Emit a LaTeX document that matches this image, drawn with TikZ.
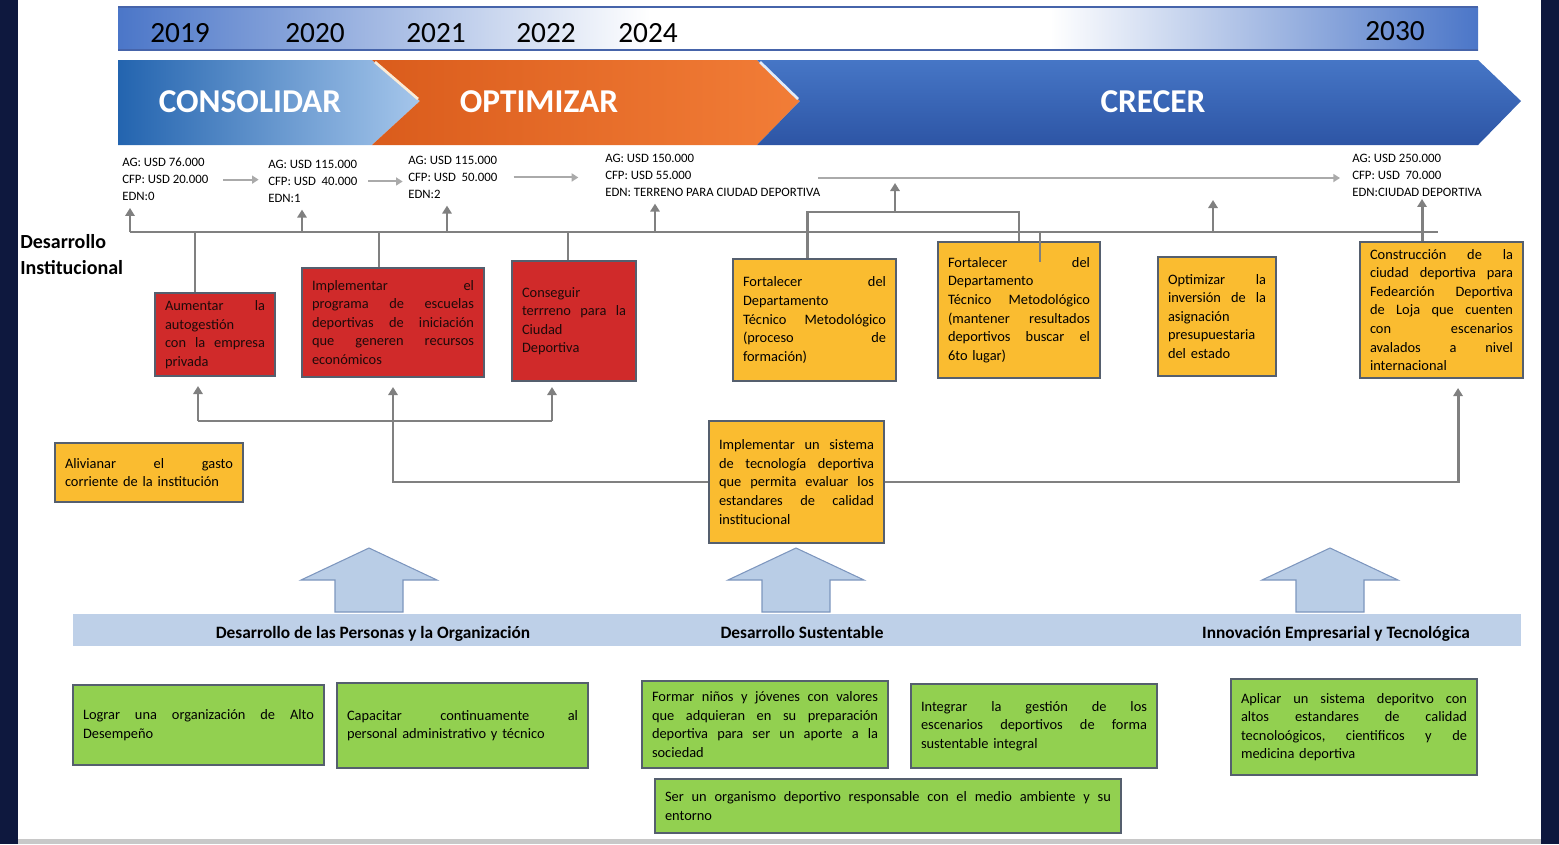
\documentclass[tikz,border=0pt]{standalone}
\usepackage{fontspec}
\setmainfont{Carlito}
\usetikzlibrary{arrows.meta}

\begin{document}
\begin{tikzpicture}[x=0.75pt,y=0.75pt,yscale=-1,xscale=1,
    conn/.style={draw={rgb, 255:red, 128; green, 128; blue, 128 }, line width=2.2pt},
    connarr/.style={conn, -{Triangle[width=7pt,length=6pt]}},
    toparr/.style={draw={rgb, 255:red, 170; green, 170; blue, 170 }, line width=1.5pt, -{Triangle[width=6pt,length=5pt]}},
    box/.style={draw={rgb, 255:red, 85; green, 95; blue, 110 }, line width=1pt, inner xsep=7.5pt, inner ysep=3pt, align=left, font=\fontsize{10.8}{13.9}\selectfont},
    redbox/.style={box, fill={rgb, 255:red, 208; green, 42; blue, 42 }, text={rgb, 255:red, 30; green, 10; blue, 10 }},
    yelbox/.style={box, fill={rgb, 255:red, 250; green, 188; blue, 48 }},
    grnbox/.style={box, fill={rgb, 255:red, 146; green, 208; blue, 80 }},
    amount/.style={anchor=north west, inner sep=0pt, align=left, font=\fontsize{9.6}{12.75}\selectfont},
    year/.style={inner sep=0pt, font=\fontsize{22}{22}\selectfont},
    phase/.style={inner sep=0pt, text=white, font=\bfseries\fontsize{25}{25}\selectfont},
    band/.style={inner sep=0pt, anchor=base, font=\bfseries\fontsize{13}{13}\selectfont},
    blockarr/.style={fill={rgb, 255:red, 185; green, 205; blue, 230 }, draw={rgb, 255:red, 125; green, 150; blue, 190 }, line width=0.8pt}
  ]
  \useasboundingbox (0,0) rectangle (1559,844);

  %Shape: Rectangle [frame]
  \fill [fill={rgb, 255:red, 14; green, 24; blue, 62 }] (0,0) rectangle (18,844);
  \fill [fill={rgb, 255:red, 14; green, 24; blue, 62 }] (1541,0) rectangle (1559,844);
  \fill [fill={rgb, 255:red, 200; green, 200; blue, 200 }] (18,839) rectangle (1541,844);

  %Shape: Rectangle [years]
  \shade [left color={rgb, 255:red, 75; green, 118; blue, 200 }, right color=white] (118,7) rectangle (650,50);
  \fill [white] (650,7) rectangle (1050,50);
  \shade [left color=white, right color={rgb, 255:red, 75; green, 118; blue, 200 }] (1050,7) rectangle (1478,50);
  \draw [draw={rgb, 255:red, 70; green, 100; blue, 170 }, line width=0.8pt] (118,7) -- (1478,7) (118,50) -- (1478,50);

  % Text Node
  \node [year] (y2019) at (180,33) {2019};
  \node [year] (y2020) at (315,33) {2020};
  \node [year] (y2021) at (436,33) {2021};
  \node [year] (y2022) at (546,33) {2022};
  \node [year] (y2024) at (648,33) {2024};
  \node [year] (y2030) at (1395,31) {2030};

  %Shape: Polygon [phases]
  \shade [left color={rgb, 255:red, 35; green, 100; blue, 175 }, right color={rgb, 255:red, 165; green, 198; blue, 235 }] (118,60) -- (372,60) -- (420,101) -- (372,145) -- (118,145) -- cycle;
  \shade [left color={rgb, 255:red, 218; green, 92; blue, 28 }, right color={rgb, 255:red, 242; green, 125; blue, 55 }] (372,60) -- (757,60) -- (800,101) -- (757,145) -- (372,145) -- (420,101) -- cycle;
  \shade [top color={rgb, 255:red, 70; green, 118; blue, 198 }, bottom color={rgb, 255:red, 45; green, 85; blue, 165 }] (757,60) -- (1478,60) -- (1521,101) -- (1478,145) -- (757,145) -- (800,101) -- cycle;
  \draw [draw={rgb, 255:red, 250; green, 235; blue, 215 }, line width=2pt] (375,62) -- (418,99);
  \draw [draw={rgb, 255:red, 225; green, 235; blue, 250 }, line width=2pt] (760,62) -- (798,99);

  % Text Node
  \node [phase] (consol) at (250,102) {CONSOLIDAR};
  \node [phase] (optim) at (539,102) {OPTIMIZAR};
  \node [phase] (crecer) at (1153,102) {CRECER};

  % Text Node
  \node [amount] (t1) at (122,158) {AG: USD 76.000\\CFP: USD 20.000\\EDN:0};
  \node [amount] (t2) at (268,160) {AG: USD 115.000\\CFP: USD\ \ 40.000\\EDN:1};
  \node [amount] (t3) at (408,156) {AG: USD 115.000\\CFP: USD\ \ 50.000\\EDN:2};
  \node [amount] (t4) at (605,154) {AG: USD 150.000\\CFP: USD 55.000\\EDN: TERRENO PARA CIUDAD DEPORTIVA};
  \node [amount] (t5) at (1352,154) {AG: USD 250.000\\CFP: USD\ \ 70.000\\EDN:CIUDAD DEPORTIVA};
  \coordinate (longstart) at (818,178);

  %Straight Lines [amounts]
  \draw [toparr, shorten <=11pt, shorten >=7pt] (t1.east) -- (t1.east -| t2.west);
  \draw [toparr, shorten <=8pt, shorten >=4pt] (t2.east) -- (t2.east -| t3.west);
  \draw [toparr, shorten <=12pt, shorten >=20pt] (t3.east) -- (t3.east -| t4.west);
  \draw [toparr, shorten >=9pt] (longstart) -- (longstart -| t5.west);

  % Text Node
  \node [anchor=north west, inner sep=0pt, align=left, font=\bfseries\fontsize{15}{19.5}\selectfont] (desinst) at (20,234) {Desarrollo\\Institucional};

  % Text Node
  \node [redbox, text width=75pt, minimum height=62.25pt] (aum) at (215,334.5) {Aumentar\hfill la\\autogestión\\con\hfill la\hfill empresa\\privada};
  \node [redbox, text width=121.5pt, minimum height=81.75pt] (impl) at (393,322.5) {Implementar\hfill el\\programa\hfill de\hfill escuelas\\deportivas\hfill de\hfill iniciación\\que\hfill generen\hfill recursos\\económicos};
  \node [redbox, text width=78pt, minimum height=90pt] (cons) at (574,321) {Conseguir\\terrreno\hfill para\hfill la\\Ciudad\\Deportiva};
  \node [yelbox, text width=107.25pt, minimum height=91.5pt] (fort1) at (814.5,320) {Fortalecer\hfill del\\Departamento\\Técnico\hfill Metodológico\\(proceso\hfill de\\formación)};
  \node [yelbox, text width=106.5pt, minimum height=102pt] (fort2) at (1019,310) {Fortalecer\hfill del\\Departamento\\Técnico\hfill Metodológico\\(mantener\hfill resultados\\deportivos\hfill buscar\hfill el\\6to lugar)};
  \node [yelbox, text width=73.5pt, minimum height=89.25pt] (optm) at (1217,316.5) {Optimizar\hfill la\\inversión\hfill de\hfill la\\asignación\\presupuestaria\\del estado};
  \node [yelbox, text width=107.25pt, minimum height=102pt] (constr) at (1441.5,310) {Construcción\hfill de\hfill la\\ciudad\hfill deportiva\hfill para\\Fedearción\hfill Deportiva\\de\hfill Loja\hfill que\hfill cuenten\\con\hfill escenarios\\avalados\hfill a\hfill nivel\\internacional};
  \node [yelbox, text width=126pt, minimum height=44.25pt] (aliv) at (149,472.5) {Alivianar\hfill el\hfill gasto\\corriente de la institución};
  \node [yelbox, text width=116.25pt, minimum height=91.5pt] (sist) at (796.5,482) {Implementar\hfill un\hfill sistema\\de\hfill tecnología\hfill deportiva\\que\hfill permita\hfill evaluar\hfill los\\estandares\hfill de\hfill calidad\\institucional};

  %Straight Lines [bar]
  \coordinate (barL) at (130,232);
  \coordinate (barR) at (1438,232);
  \coordinate (b2) at (302,232);
  \coordinate (b3) at (447,232);
  \coordinate (b4) at (655,232);
  \coordinate (b5) at (1213,232);
  \coordinate (brk) at (895,212);
  \draw [conn] (barL) -- (barR);
  \draw [connarr, shorten >=5pt] (barL) -- (barL |- t1.south);
  \draw [connarr, shorten >=5pt] (b2) -- (b2 |- t2.south);
  \draw [connarr, shorten >=5pt] (b3) -- (b3 |- t3.south);
  \draw [connarr, shorten >=5pt] (b4) -- (b4 |- t4.south);
  \draw [connarr] (b5) -- ++(0,-32);
  \draw [conn] ([xshift=-15pt]aum.north) -- ([xshift=-15pt]aum.north |- barL);
  \draw [conn] ([xshift=-10.5pt]impl.north) -- ([xshift=-10.5pt]impl.north |- barL);
  \draw [conn] ([xshift=-4.5pt]cons.north) -- ([xshift=-4.5pt]cons.north |- barL);
  \draw [conn] ([xshift=-5.6pt]fort1.north) |- (brk) -| (fort2.north);
  \draw [connarr] (brk) -- ++(0,-29);
  \draw [conn] ([xshift=15.75pt]fort2.north |- barL) -- ++(0,30);
  \draw [connarr, shorten >=1.5pt] ([xshift=-14.6pt]constr.north) -- ([xshift=-14.6pt]constr.north |- t5.south);

  %Straight Lines [lower links]
  \coordinate (lowL) at (198,421);
  \coordinate (lowR) at (552,421);
  \draw [conn] (lowL) -- (lowR);
  \draw [connarr, shorten >=7pt] (lowL) -- (lowL |- aum.south);
  \draw [connarr, shorten >=7pt] (impl.south |- lowL) -- (impl.south);
  \draw [connarr, shorten >=4pt] (lowR) -- (lowR |- cons.south);
  \draw [conn] (impl.south |- lowL) |- (sist.west);
  \draw [connarr, shorten >=7pt] (sist.east) -| ([xshift=12.4pt]constr.south);

  %Shape: Arrow
  \draw [blockarr] (369,548) -- (437,580) -- (403,580) -- (403,612) -- (335,612) -- (335,580) -- (301,580) -- cycle;
  %Shape: Arrow
  \draw [blockarr] (796,548) -- (864,580) -- (830,580) -- (830,612) -- (762,612) -- (762,580) -- (728,580) -- cycle;
  %Shape: Arrow
  \draw [blockarr] (1330,548) -- (1398,580) -- (1364,580) -- (1364,612) -- (1296,612) -- (1296,580) -- (1262,580) -- cycle;

  %Shape: Rectangle [band]
  \fill [fill={rgb, 255:red, 190; green, 208; blue, 232 }] (73,614) rectangle (1521,646);

  % Text Node
  \node [band] (pers) at (373,638) {Desarrollo de las Personas y la Organización};
  \node [band] (sust) at (802,638) {Desarrollo Sustentable};
  \node [band] (innov) at (1336,638) {Innovación Empresarial y Tecnológica};

  % Text Node
  \node [grnbox, text width=173.25pt, minimum height=60pt] (g1) at (198.5,725) {Lograr\hfill una\hfill organización\hfill de\hfill Alto\\Desempeño};
  \node [grnbox, text width=173.25pt, minimum height=63.75pt] (g2) at (462.5,725.5) {Capacitar\hfill continuamente\hfill al\\personal administrativo y técnico};
  \node [grnbox, text width=169.5pt, minimum height=65.25pt] (g3) at (765,724.5) {Formar\hfill niños\hfill y\hfill jóvenes\hfill con\hfill valores\\que\hfill adquieran\hfill en\hfill su\hfill preparación\\deportiva\hfill para\hfill ser\hfill un\hfill aporte\hfill a\hfill la\\sociedad};
  \node [grnbox, text width=169.5pt, minimum height=63pt] (g4) at (1034,726) {Integrar\hfill la\hfill gestión\hfill de\hfill los\\escenarios\hfill deportivos\hfill de\hfill forma\\sustentable integral};
  \node [grnbox, text width=169.5pt, minimum height=72pt] (g5) at (1354,727) {Aplicar\hfill un\hfill sistema\hfill deporitvo\hfill con\\altos\hfill estandares\hfill de\hfill calidad\\tecnoloógicos,\hfill cientificos\hfill y\hfill de\\medicina deportiva};
  \node [grnbox, text width=334.5pt, minimum height=40.5pt] (g6) at (888,806) {Ser\hfill un\hfill organismo\hfill deportivo\hfill responsable\hfill con\hfill el\hfill medio\hfill ambiente\hfill y\hfill su\\entorno};

\end{tikzpicture}
\end{document}
